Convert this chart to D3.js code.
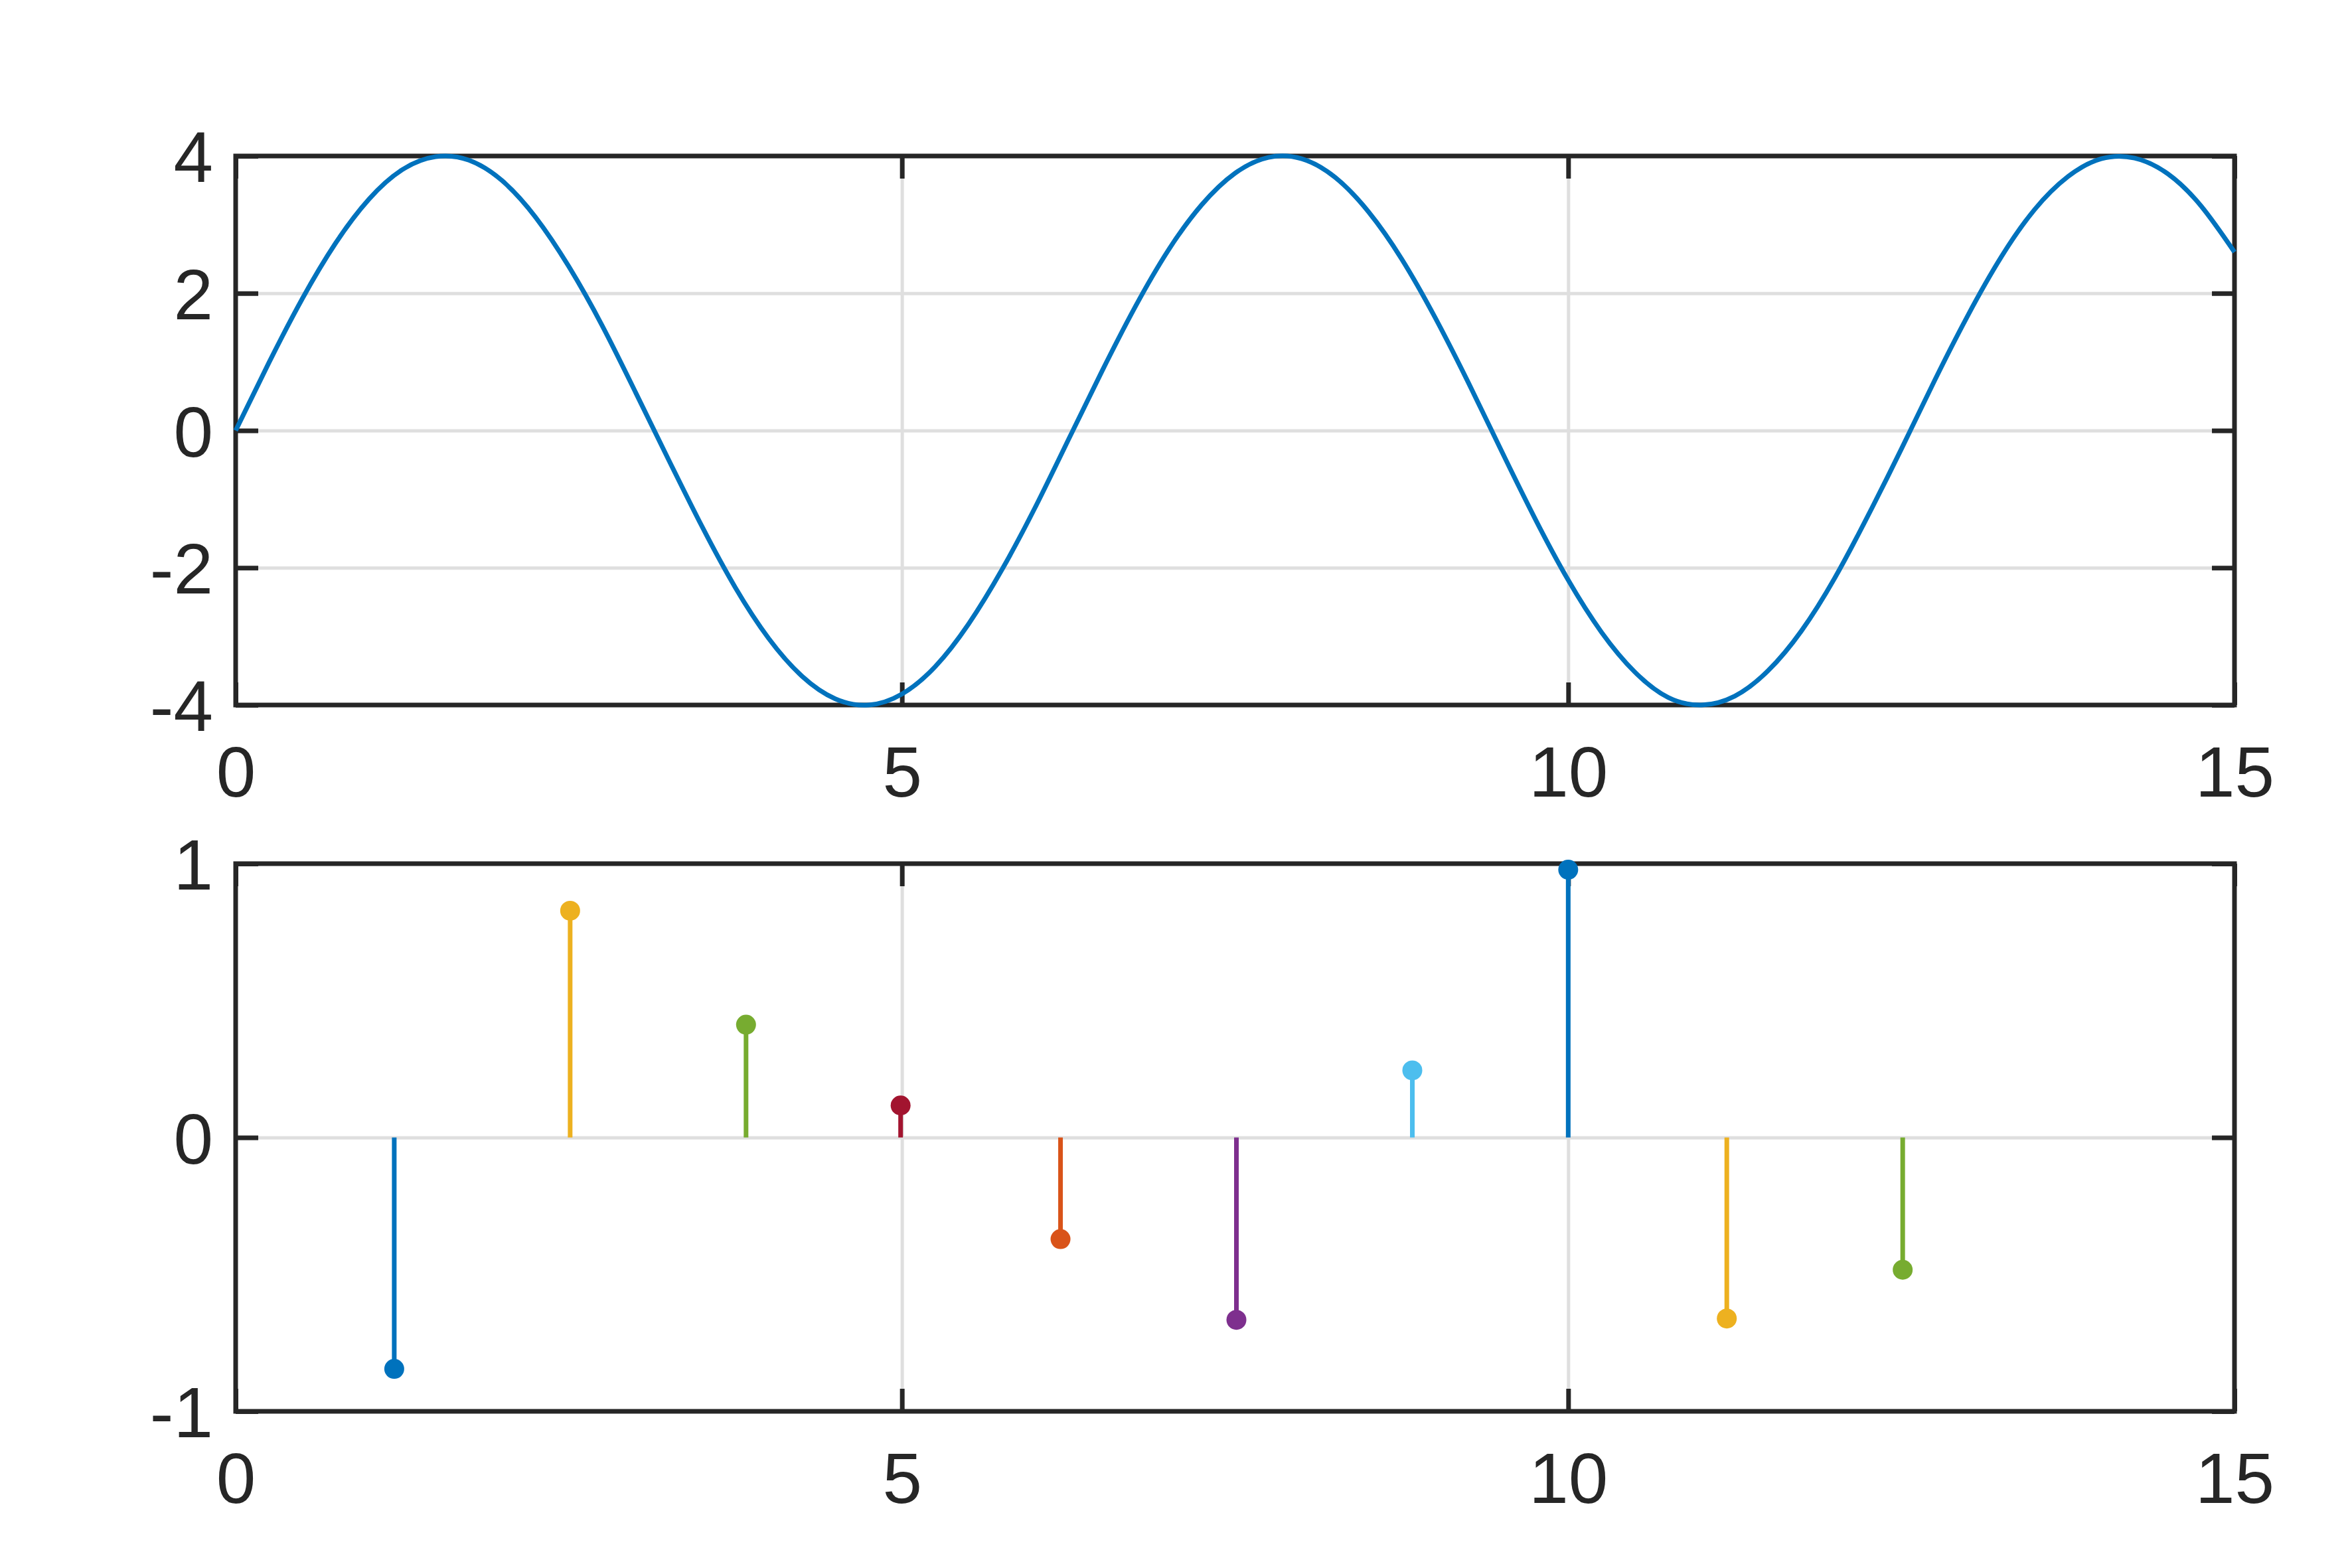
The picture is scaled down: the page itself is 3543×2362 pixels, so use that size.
<!DOCTYPE html>
<html>
<head>
<meta charset="utf-8">
<script src="https://cdn.jsdelivr.net/npm/d3@7"></script>
<style>
  body { margin: 0; background: #fff; }
  text { font-family: "Liberation Sans", Arial, Helvetica, sans-serif; }
</style>
</head>
<body>
<div id="chart"></div>
<script>
var waveX = [0, 0.25, 0.5, 0.75, 1, 1.25, 1.5, 1.75, 2, 2.25, 2.5, 2.75, 3, 3.25, 3.5, 3.75,
  4, 4.25, 4.5, 4.75, 5, 5.25, 5.5, 5.75, 6, 6.25, 6.5, 6.75, 7, 7.25, 7.5, 7.75,
  8, 8.25, 8.5, 8.75, 9, 9.25, 9.5, 9.75, 10, 10.25, 10.5, 10.75, 11, 11.25, 11.5, 11.75,
  12, 12.25, 12.5, 12.75, 13, 13.25, 13.5, 13.75, 14, 14.25, 14.5, 14.75, 15];
var waveY = [0, 0.99, 1.92, 2.73, 3.37, 3.80, 3.99, 3.94, 3.64, 3.11, 2.39, 1.53, 0.56, -0.43, -1.40, -2.29,
  -3.03, -3.58, -3.91, -4.00, -3.84, -3.44, -2.82, -2.03, -1.12, -0.13, 0.86, 1.80, 2.63, 3.29, 3.75, 3.98,
  3.96, 3.69, 3.19, 2.50, 1.65, 0.70, -0.30, -1.28, -2.18, -2.94, -3.52, -3.89, -4.00, -3.87, -3.50, -2.92,
  -2.15, -1.24, -0.27, 0.73, 1.68, 2.53, 3.22, 3.70, 3.96, 3.97, 3.74, 3.27, 2.60];

// bottom plot: stems
var stemX = [1.19, 2.51, 3.83, 4.99, 6.19, 7.51, 8.83, 10.0, 11.19, 12.51];
var stemY = [-0.845, 0.828, 0.412, 0.117, -0.371, -0.666, 0.245, 0.978, -0.661, -0.483];
var stemColors = ["#0072BD", "#EDB120", "#77AC30", "#A2142F", "#D95319",
                  "#7E2F8E", "#4DBEEE", "#0072BD", "#EDB120", "#77AC30"];

// tick labels
var xTicks = [0, 5, 10, 15];
var xTickLabels = ["0", "5", "10", "15"];
var topYTicks = [-4, -2, 0, 2, 4];
var topYTickLabels = ["-4", "-2", "0", "2", "4"];
var botYTicks = [-1, 0, 1];
var botYTickLabels = ["-1", "0", "1"];

var svgWidth = 3543;
var svgHeight = 2362;
var left = 355, right = 3366;
var width = right - left;
var ink = "#262626";
var gridColor = "#dfdfdf";
var tickLen = 34;
var fontSize = 107;

var svg = d3.select("#chart")
  .append("svg")
  .attr("width", svgWidth)
  .attr("height", svgHeight);

// draws one framed MATLAB-like axes, returns the scales and data layer
function makeAxes(top, height, yDomain, yTicks, yLabels) {
  var g = svg.append("g").attr("transform", `translate(${left}, ${top})`);
  var x = d3.scaleLinear().domain([0, 15]).range([0, width]);
  var y = d3.scaleLinear().domain(yDomain).range([height, 0]);

  // grid
  var gx = g.append("g")
    .call(d3.axisBottom(x).tickValues(xTicks.slice(1, -1)).tickSize(height).tickFormat(""));
  var gy = g.append("g")
    .call(d3.axisLeft(y).tickValues(yTicks.slice(1, -1)).tickSize(-width).tickFormat(""));
  [gx, gy].forEach(function(s) {
    s.select(".domain").remove();
    s.selectAll("line").attr("stroke", gridColor).attr("stroke-width", 5);
  });

  // ticks on all four sides
  var lab = function(arr, ticks) { return function(d) { return arr[ticks.indexOf(d)]; }; };
  var axB = g.append("g").attr("transform", `translate(0, ${height})`)
    .call(d3.axisBottom(x).tickValues(xTicks).tickSize(-tickLen).tickSizeOuter(0)
      .tickPadding(62).tickFormat(lab(xTickLabels, xTicks)));
  var axT = g.append("g")
    .call(d3.axisTop(x).tickValues(xTicks).tickSize(-tickLen).tickSizeOuter(0).tickFormat(""));
  var axL = g.append("g")
    .call(d3.axisLeft(y).tickValues(yTicks).tickSize(-tickLen).tickSizeOuter(0)
      .tickPadding(34).tickFormat(lab(yLabels, yTicks)));
  var axR = g.append("g").attr("transform", `translate(${width}, 0)`)
    .call(d3.axisRight(y).tickValues(yTicks).tickSize(-tickLen).tickSizeOuter(0).tickFormat(""));
  [axB, axT, axL, axR].forEach(function(s) {
    s.select(".domain").remove();
    s.selectAll("line").attr("stroke", ink).attr("stroke-width", 7);
    s.selectAll("text").attr("fill", ink).style("font-size", fontSize + "px");
  });
  axL.selectAll("text").attr("dy", "0.36em");

  // box
  g.append("rect")
    .attr("width", width)
    .attr("height", height)
    .attr("fill", "none")
    .attr("stroke", ink)
    .attr("stroke-width", 7);

  return { g: g.append("g"), x: x, y: y };
}

// top: wave
var A = makeAxes(235, 827, [-4, 4], topYTicks, topYTickLabels);
var wave = waveX.map(function(d, i) { return [d, waveY[i]]; });
A.g.append("path")
  .datum(wave)
  .attr("fill", "none")
  .attr("stroke", "#0072BD")
  .attr("stroke-width", 7)
  .attr("d", d3.line().x(d => A.x(d[0])).y(d => A.y(d[1])).curve(d3.curveNatural));

// bottom: stems
var B = makeAxes(1301, 825, [-1, 1], botYTicks, botYTickLabels);
var stems = stemX.map(function(d, i) { return { x: d, y: stemY[i], c: stemColors[i] }; });
B.g.selectAll("line.stem")
  .data(stems)
  .enter()
  .append("line")
  .attr("class", "stem")
  .attr("x1", d => B.x(d.x))
  .attr("x2", d => B.x(d.x))
  .attr("y1", B.y(0))
  .attr("y2", d => B.y(d.y))
  .attr("stroke", d => d.c)
  .attr("stroke-width", 7);
B.g.selectAll("circle")
  .data(stems)
  .enter()
  .append("circle")
  .attr("cx", d => B.x(d.x))
  .attr("cy", d => B.y(d.y))
  .attr("r", 15)
  .attr("fill", d => d.c);
</script>
</body>
</html>
